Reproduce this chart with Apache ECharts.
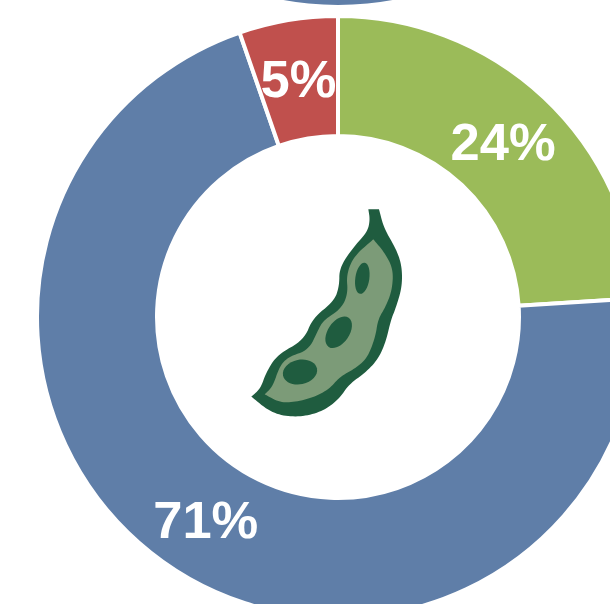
<!DOCTYPE html>
<html><head><meta charset="utf-8">
<style>html,body{margin:0;padding:0;background:#fff}#c{width:610px;height:604px}</style>
<script src="https://cdn.jsdelivr.net/npm/echarts@6/dist/echarts.min.js"></script>
</head><body><div id="c"></div>
<script>
var categories = ['Green', 'Blue', 'Red'];
var sliceValues = [24, 70.7, 5.3];
var percentLabels = ['24%', '71%', '5%'];
var colors = ['#9BBB59', '#5F7EA8', '#C0504D'];
var labelOffsets = [[-2, 6], [3, 3], [1, 6]];

var podOuter = [[385,28],[385,28],[417,28],[417,28],[432,85],[470,150],[486,200],[486,262],[468,322],[452,362],[438,424],[414,478],[376,518],[328,552],[296,598],[254,630],[200,648],[140,650],[88,634],[34,590],[34,590],[62,565],[78,518],[112,464],[192,420],[218,354],[282,304],[298,258],[298,204],[338,144],[382,96],[390,60]];
var podInner = [[400,118],[400,118],[434,158],[460,208],[456,272],[436,322],[414,358],[406,412],[381,476],[344,506],[299,531],[269,566],[222,592],[160,607],[118,607],[74,583],[74,583],[98,560],[119,498],[146,470],[206,450],[234,391],[250,361],[304,326],[324,280],[319,224],[342,168]];
var seeds = [[367,235,21,47,-0.15],[296,397,32,53,-0.6],[180,516,52,37,0.2]];

function rounded(points) {
  var p = points;
  for (var k = 0; k < 3; k++) {
    var q = [];
    for (var i = 0; i < p.length; i++) {
      var a = p[i], b = p[(i + 1) % p.length];
      q.push([a[0] * 0.75 + b[0] * 0.25, a[1] * 0.75 + b[1] * 0.25]);
      q.push([a[0] * 0.25 + b[0] * 0.75, a[1] * 0.25 + b[1] * 0.75]);
    }
    p = q;
  }
  return p;
}

var chart = echarts.init(document.getElementById('c'), null, {renderer:'canvas'});
var pods = [
  {type:'polygon', shape:{points:rounded(podOuter)}, style:{fill:'#1F5C3F'}},
  {type:'polygon', shape:{points:rounded(podInner)}, style:{fill:'#7C9B78'}}
];
seeds.forEach(function(s){
  pods.push({type:'ellipse', x:s[0], y:s[1], rotation:s[4], shape:{cx:0,cy:0,rx:s[2],ry:s[3]}, style:{fill:'#1F5C3F'}});
});
chart.setOption({
  backgroundColor:'#fff',
  animation:false,
  series:[
    {type:'pie', silent:true, center:[338,-295], radius:[183,300], label:{show:false}, labelLine:{show:false},
     data:[{value:1,name:'Top',itemStyle:{color:colors[1]}}]},
    {type:'pie', silent:true, center:[338,317], radius:[181,301], startAngle:90, clockwise:true,
     avoidLabelOverlap:false, labelLine:{show:false},
     itemStyle:{borderColor:'#fff',borderWidth:4},
     data:categories.map(function(n,i){return {
       name:n, value:sliceValues[i], itemStyle:{color:colors[i]},
       label:{show:true, position:'inside', formatter:percentLabels[i], color:'#fff', fontFamily:'Liberation Sans',
              fontWeight:'bold', fontSize:52.5, offset:labelOffsets[i]}
     };})}
  ],
  graphic:[{type:'group', x:240, y:200, scaleX:1/3, scaleY:1/3, silent:true, children:pods}]
});
</script></body></html>
